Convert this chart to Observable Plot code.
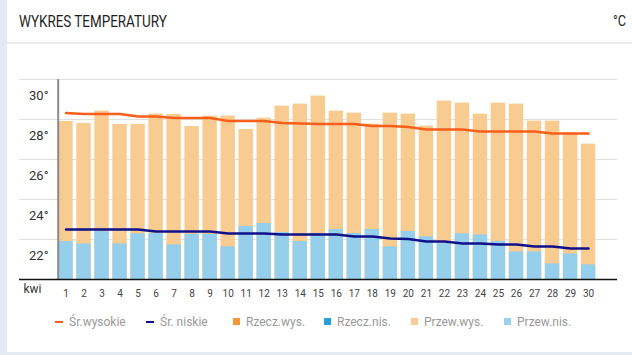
<!DOCTYPE html>
<html><head><meta charset="utf-8">
<script src="https://cdn.jsdelivr.net/npm/d3@7"></script>
<script src="https://cdn.jsdelivr.net/npm/@observablehq/plot@0.6"></script>
<style>
html,body{margin:0;padding:0;width:632px;height:355px;overflow:hidden;background:#e4eaf2;font-family:Roboto,sans-serif;}
#card{position:absolute;left:7px;top:0;width:625px;height:352px;background:#fff;}
#title{position:absolute;left:19px;top:13px;font-size:17px;line-height:17px;color:#1e1e1e;transform:scaleX(0.79);transform-origin:0 0;white-space:nowrap;}
#unit{position:absolute;left:613px;top:13px;font-size:15px;line-height:17px;color:#1e1e1e;transform:scaleX(0.85);transform-origin:0 0;white-space:nowrap;}
#sep{position:absolute;left:7px;top:42px;width:625px;height:2px;background:#ececec;}
#chart{position:absolute;left:0;top:60px;}
.li{position:absolute;top:315px;height:14px;font-size:12px;line-height:14px;color:#999;white-space:nowrap;}
.li i{position:absolute;left:0;}
.li span{position:absolute;white-space:nowrap;}
.dash{top:6px;width:8px;height:2px;}
.sq{top:3px;width:7px;height:7px;}
</style>
</head><body>
<div id="card"></div>
<div id="title">WYKRES TEMPERATURY</div>
<div id="unit">°C</div>
<div id="sep"></div>
<div id="chart"></div>
<div id="legend"></div>
<script>
// Data (April, days)
const monthLabel = "kwi";
const days = ["1","2","3","4","5","6","7","8","9","10","11","12","13","14","15","16","17","18","19","20","21","22","23","24","25","26","27","28","29","30"];
const przewWys = [27.9,27.8,28.42,27.75,27.75,28.27,28.25,27.65,28.17,28.17,27.5,28.07,28.67,28.77,29.17,28.42,28.32,27.77,28.32,28.27,27.67,28.92,28.82,28.27,28.82,28.77,27.92,27.92,27.33,26.77];
const przewNis = [21.9,21.78,22.4,21.78,22.28,22.3,21.73,22.25,22.25,21.63,22.65,22.8,22.35,21.9,22.3,22.5,22.3,22.5,21.63,22.4,22.13,21.8,22.28,22.23,21.9,21.38,21.38,20.78,21.28,20.73];
const srWys = [28.32,28.27,28.27,28.27,28.15,28.15,28.08,28.08,28.07,27.92,27.92,27.92,27.82,27.8,27.77,27.77,27.77,27.67,27.67,27.62,27.5,27.5,27.5,27.4,27.4,27.4,27.4,27.3,27.3,27.3];
const srNis = [22.5,22.5,22.5,22.5,22.5,22.4,22.4,22.4,22.4,22.3,22.3,22.3,22.25,22.25,22.25,22.25,22.15,22.15,22.05,22.02,21.9,21.9,21.8,21.8,21.75,21.75,21.65,21.65,21.55,21.55];
const yTicks = [22,24,26,28,30];
const yDomain = [20,30];
const legendItems = [
  {label:"Śr.wysokie", color:"#f95e1a", kind:"dash", left:55},
  {label:"Śr. niskie", color:"#10108a", kind:"dash", left:146},
  {label:"Rzecz.wys.", color:"#f99336", kind:"sq", left:233},
  {label:"Rzecz.nis.", color:"#26a0da", kind:"sq", left:324},
  {label:"Przew.wys.", color:"#fccb96", kind:"sq", left:411},
  {label:"Przew.nis.", color:"#9ad1ec", kind:"sq", left:504}
];

const table = days.map((d,i) => ({day:d, hi:przewWys[i], lo:przewNis[i], avgHi:srWys[i], avgLo:srNis[i]}));

const chart = Plot.plot({
  width: 632,
  height: 245,
  marginTop: 19,
  marginBottom: 26,
  marginLeft: 19,
  marginRight: 15,
  style: {fontFamily: "Roboto, sans-serif", background: "transparent"},
  x: {type: "band", domain: days, paddingInner: 0.2, paddingOuter: 1.6925, align: 0.644, round: false, label: null},
  y: {domain: yDomain, label: null},
  marks: [
    Plot.ruleY(yTicks, {stroke: "#e0e0e0", strokeWidth: 1}),
    Plot.barY(table, {x: "day", y1: yDomain[0], y2: "hi", fill: "#f8cb91"}),
    Plot.barY(table, {x: "day", y1: yDomain[0], y2: "lo", fill: "#96cfeb"}),
    Plot.lineY(table, {x: "day", y: "avgHi", stroke: "#f95e1a", strokeWidth: 2.5}),
    Plot.lineY(table, {x: "day", y: "avgLo", stroke: "#10108a", strokeWidth: 2.5}),
    Plot.ruleX([days[0]], {dx: -7.8, stroke: "#8a8a8a", strokeWidth: 2}),
    Plot.ruleY([yDomain[0]], {stroke: "#111", strokeWidth: 1.5}),
    Plot.axisY(yTicks, {tickSize: 0, tickPadding: 0, dx: 29, dy: 16, tickFormat: d => d + "°", fontSize: 13, fill: "#333"}),
    Plot.axisX({tickSize: 0, tickPadding: 10, fontSize: 10, fill: "#444"}),
    Plot.text([monthLabel], {text: d => d, frameAnchor: "bottom-left", dx: 4, dy: 13, textAnchor: "start", fontSize: 12, fill: "#333"})
  ]
});
document.getElementById("chart").appendChild(chart);

const lg = document.getElementById("legend");
for (const it of legendItems) {
  const el = document.createElement("div");
  el.className = "li";
  el.style.left = it.left + "px";
  const mk = document.createElement("i");
  mk.className = it.kind;
  mk.style.background = it.color;
  const tx = document.createElement("span");
  tx.textContent = it.label;
  tx.style.left = (it.kind === "dash" ? 14 : 13) + "px";
  el.appendChild(mk); el.appendChild(tx);
  lg.appendChild(el);
}
</script>
</body></html>
